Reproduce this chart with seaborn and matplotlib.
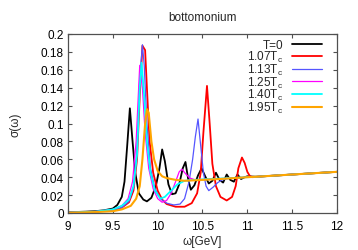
import pandas as pd
import matplotlib
matplotlib.use("Agg")
import matplotlib.pyplot as plt
import seaborn as sns

# spectral functions (omega in GeV, sigma)
black_w = [9.0, 9.2, 9.3, 9.4, 9.5, 9.55, 9.6, 9.63, 9.66, 9.69, 9.72, 9.75, 9.79, 9.84, 9.88,
           9.93, 9.98, 10.02, 10.05, 10.08, 10.12, 10.16, 10.2, 10.24, 10.28, 10.31, 10.34, 10.37,
           10.41, 10.45, 10.49, 10.53, 10.57, 10.61, 10.65, 10.69, 10.73, 10.77, 10.81, 10.85,
           10.89, 10.93, 10.97, 11.0]
black_s = [0.0008, 0.0015, 0.002, 0.003, 0.005, 0.009, 0.018, 0.035, 0.075, 0.117, 0.08, 0.045,
           0.022, 0.015, 0.013, 0.017, 0.03, 0.05, 0.071, 0.058, 0.032, 0.021, 0.022, 0.032, 0.05,
           0.057, 0.038, 0.026, 0.031, 0.042, 0.05, 0.041, 0.033, 0.036, 0.045, 0.037, 0.034,
           0.043, 0.037, 0.035, 0.043, 0.038, 0.04, 0.041]

red_w = [9.0, 9.3, 9.5, 9.6, 9.68, 9.73, 9.77, 9.8, 9.83, 9.86, 9.88, 9.91, 9.95, 10.0, 10.05,
         10.1, 10.2, 10.3, 10.38, 10.44, 10.48, 10.51, 10.55, 10.58, 10.61, 10.65, 10.7, 10.77,
         10.83, 10.87, 10.9, 10.94, 10.97, 11.0, 11.03, 11.06]
red_s = [0.0005, 0.0015, 0.003, 0.006, 0.012, 0.025, 0.06, 0.13, 0.187, 0.182, 0.14, 0.08, 0.045,
         0.025, 0.015, 0.01, 0.007, 0.007, 0.011, 0.022, 0.045, 0.09, 0.142, 0.1, 0.055, 0.03,
         0.018, 0.014, 0.018, 0.03, 0.05, 0.062, 0.056, 0.046, 0.041, 0.04]

blue_w = [9.0, 9.3, 9.5, 9.6, 9.68, 9.73, 9.77, 9.8, 9.83, 9.85, 9.88, 9.92, 9.97, 10.03, 10.1,
          10.18, 10.25, 10.3, 10.35, 10.39, 10.42, 10.45, 10.48, 10.51, 10.54, 10.57, 10.62,
          10.67, 10.72, 10.8]
blue_s = [0.0005, 0.0015, 0.003, 0.006, 0.013, 0.028, 0.07, 0.15, 0.188, 0.165, 0.1, 0.05, 0.027,
          0.016, 0.011, 0.009, 0.01, 0.016, 0.035, 0.06, 0.085, 0.105, 0.075, 0.045, 0.03, 0.025,
          0.029, 0.034, 0.037, 0.039]

magenta_w = [9.0, 9.3, 9.5, 9.6, 9.67, 9.72, 9.76, 9.8, 9.83, 9.86, 9.9, 9.95, 10.0, 10.05, 10.1,
             10.15, 10.2, 10.24, 10.27, 10.31, 10.36, 10.42]
magenta_s = [0.0005, 0.0015, 0.004, 0.008, 0.016, 0.035, 0.08, 0.165, 0.14, 0.09, 0.05, 0.027,
             0.016, 0.012, 0.014, 0.022, 0.035, 0.046, 0.049, 0.044, 0.039, 0.037]

cyan_w = [9.0, 9.3, 9.5, 9.6, 9.68, 9.73, 9.77, 9.8, 9.82, 9.85, 9.88, 9.92, 9.97, 10.03, 10.08,
          10.15, 10.22, 10.3, 10.4]
cyan_s = [0.0005, 0.0015, 0.004, 0.008, 0.015, 0.03, 0.065, 0.14, 0.168, 0.13, 0.08, 0.045,
          0.025, 0.016, 0.018, 0.025, 0.032, 0.036, 0.037]

orange_w = [9.0, 9.3, 9.5, 9.6, 9.7, 9.76, 9.8, 9.83, 9.86, 9.88, 9.9, 9.93, 9.96, 10.0, 10.05,
            10.1, 10.2, 10.3, 10.5, 10.7, 11.0]
orange_s = [0.0003, 0.001, 0.002, 0.004, 0.008, 0.016, 0.03, 0.06, 0.1, 0.116, 0.112, 0.08, 0.06,
            0.047, 0.041, 0.039, 0.037, 0.036, 0.037, 0.038, 0.040]

# common continuum above threshold
tail_w = [11.1, 11.5, 12.0]
tail_s = [0.0405, 0.043, 0.046]

labels = ["T=0", "1.07T$_c$", "1.13T$_c$", "1.25T$_c$", "1.40T$_c$", "1.95T$_c$"]
colors = ["black", "#ff0000", "#5555ff", "#ff00ff", "#00ffff", "#ffa500"]
widths = [1.3, 1.3, 0.9, 0.9, 1.3, 1.5]

x_ticks = [9, 9.5, 10, 10.5, 11, 11.5, 12]
x_tick_labels = ["9", "9.5", "10", "10.5", "11", "11.5", "12"]
y_ticks = [0, 0.02, 0.04, 0.06, 0.08, 0.1, 0.12, 0.14, 0.16, 0.18, 0.2]
y_tick_labels = ["0", "0.02", "0.04", "0.06", "0.08", "0.1", "0.12", "0.14", "0.16", "0.18", "0.2"]

series = [(black_w, black_s), (red_w, red_s), (blue_w, blue_s),
          (magenta_w, magenta_s), (cyan_w, cyan_s), (orange_w, orange_s)]

FS = 8.5

sns.set_style("ticks")
plt.rcParams['font.family'] = ['Liberation Sans', 'DejaVu Sans']
plt.rcParams['mathtext.default'] = 'regular'
plt.rcParams['font.size'] = FS

fig = plt.figure(figsize=(3.58, 2.51), dpi=100)
ax = fig.add_axes([68 / 358, 1 - 214 / 251, (337 - 68) / 358, (214 - 35) / 251])

for (w, s), lab, col, lw in zip(series, labels, colors, widths):
    df = pd.DataFrame({'omega': w + tail_w, 'sigma': s + tail_s})
    sns.lineplot(x='omega', y='sigma', data=df, ax=ax, color=col, linewidth=lw,
                 label=lab, estimator=None, sort=False)

ax.set_xlim(9, 12)
ax.set_ylim(0, 0.2)
ax.set_xticks(x_ticks)
ax.set_xticklabels(x_tick_labels)
ax.set_yticks(y_ticks)
ax.set_yticklabels(y_tick_labels)
ax.tick_params(direction='in', length=3, width=0.8, top=True, right=True,
               labelsize=FS, colors='#505050', labelcolor='black', pad=3)
ax.tick_params(axis='x', pad=5)
for sp in ax.spines.values():
    sp.set_visible(True)
    sp.set_color('#505050')
    sp.set_linewidth(0.9)

ax.set_xlabel('ω[GeV]', fontsize=FS, labelpad=2)
ax.set_ylabel('σ(ω)', fontsize=FS, labelpad=14)
ax.set_title('bottomonium', fontsize=FS, pad=10)

leg = ax.legend(loc='upper right', bbox_to_anchor=(0.965, 1.0), frameon=False,
                markerfirst=False, handlelength=2.6, handletextpad=0.6,
                labelspacing=-0.2, borderaxespad=0.05, fontsize=FS)

# right-align legend text like gnuplot: text ends a few px left of the sample lines
fig.canvas.draw()
r = fig.canvas.get_renderer()
texts = leg.get_texts()
for t in texts:
    t.set_ha('right')
for _ in range(4):
    fig.canvas.draw()
    line_x0 = min(ln.get_window_extent(r).x0 for ln in leg.get_lines())
    for t in texts:
        dx = (line_x0 - 8) - t.get_window_extent(r).x1
        x, y = t.get_position()
        t.set_position((x + dx * 72 / fig.dpi, y))

fig.savefig('out.png', dpi=100)
